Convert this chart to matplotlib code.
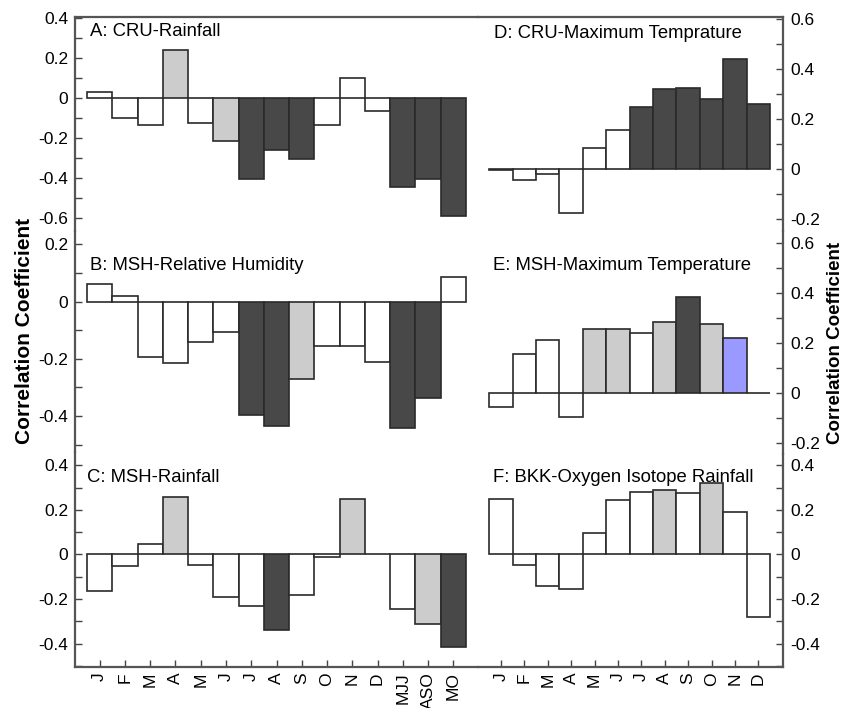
import matplotlib.pyplot as plt
from matplotlib.ticker import MultipleLocator, FuncFormatter

plt.rcParams['font.family'] = ['Liberation Sans', 'DejaVu Sans']

# bar categories
months = ['J', 'F', 'M', 'A', 'M', 'J', 'J', 'A', 'S', 'O', 'N', 'D']
seasons = ['MJJ', 'ASO', 'MO']
left_labels = months + seasons
right_labels = months

# correlation values
# sig: n = not significant, l = light gray, d = dark gray, b = blue
cru_rain = [0.03, -0.10, -0.135, 0.24, -0.125, -0.215, -0.405, -0.26, -0.305,
            -0.135, 0.10, -0.065, -0.445, -0.405, -0.59]
cru_rain_sig = ['n', 'n', 'n', 'l', 'n', 'l', 'd', 'd', 'd', 'n', 'n', 'n', 'd', 'd', 'd']

msh_rh = [0.06, 0.02, -0.195, -0.215, -0.14, -0.105, -0.395, -0.435, -0.27,
          -0.155, -0.155, -0.21, -0.44, -0.335, 0.085]
msh_rh_sig = ['n', 'n', 'n', 'n', 'n', 'n', 'd', 'd', 'l', 'n', 'n', 'n', 'd', 'd', 'n']

msh_rain = [-0.165, -0.05, 0.045, 0.26, -0.045, -0.19, -0.23, -0.34, -0.18,
            -0.01, 0.25, 0.0, -0.245, -0.31, -0.415]
msh_rain_sig = ['n', 'n', 'n', 'l', 'n', 'n', 'n', 'd', 'n', 'n', 'l', 'n', 'n', 'l', 'd']

cru_tmax = [-0.005, -0.045, -0.02, -0.175, 0.085, 0.155, 0.25, 0.32, 0.325, 0.28, 0.44, 0.26]
cru_tmax_sig = ['n', 'n', 'n', 'n', 'n', 'n', 'd', 'd', 'd', 'd', 'd', 'd']

msh_tmax = [-0.055, 0.155, 0.21, -0.095, 0.255, 0.255, 0.24, 0.285, 0.385, 0.275, 0.22, 0.0]
msh_tmax_sig = ['n', 'n', 'n', 'n', 'l', 'l', 'n', 'l', 'd', 'l', 'b', 'n']

bkk_o18 = [0.25, -0.045, -0.14, -0.155, 0.095, 0.245, 0.28, 0.29, 0.275, 0.32, 0.19, -0.28]
bkk_o18_sig = ['n', 'n', 'n', 'n', 'n', 'n', 'n', 'l', 'n', 'l', 'n', 'n']

fills = {'n': 'white', 'l': '#cccccc', 'd': '#484848', 'b': '#9999ff'}

W, H = 845, 708
fig = plt.figure(figsize=(W / 100, H / 100), dpi=100)


# axes from pixel box (left, top, right, bottom)
def add_axes_px(x0, y0, x1, y1):
    return fig.add_axes([x0 / W, 1 - y1 / H, (x1 - x0) / W, (y1 - y0) / H])


def fmt(v, pos):
    v = round(v, 2)
    if v == 0:
        return '0'
    return '%g' % v


def panel(box, vals, sig, labels, ylim, xlim, side, top, bottom):
    ax = add_axes_px(*box)
    x = list(range(len(vals)))
    ax.bar(x, vals, width=1.0, color=[fills[s] for s in sig],
           edgecolor='#2a2a2a', linewidth=1.2, zorder=2)
    ax.set_xlim(*xlim)
    ax.set_ylim(*ylim)
    ax.patch.set_alpha(0)

    for s in ax.spines.values():
        s.set_visible(False)
        s.set_color('#555555')
        s.set_linewidth(1.6)
    ax.spines[side].set_visible(True)
    ax.spines['top'].set_visible(top)
    ax.spines['bottom'].set_visible(bottom)

    ax.yaxis.set_major_locator(MultipleLocator(0.2))
    ax.yaxis.set_minor_locator(MultipleLocator(0.1))
    ax.yaxis.set_major_formatter(FuncFormatter(fmt))
    on_left = side == 'left'
    ax.tick_params(axis='y', which='both', direction='in', length=5, width=1,
                   color='#444444', left=on_left, right=not on_left,
                   labelleft=on_left, labelright=not on_left,
                   labelsize=12.5, pad=5)

    if bottom:
        ax.set_xticks(x)
        ax.set_xticklabels(labels, rotation=90, fontsize=12.5)
        ax.tick_params(axis='x', direction='in', length=5, width=1,
                       color='#444444', top=False, pad=4)
    else:
        ax.tick_params(axis='x', bottom=False, top=False, labelbottom=False)
    return ax


lx0, split, rx1 = 75, 478, 783
left_xlim = (-0.975, 14.975)
right_xlim = (-0.983, 12.056)

panel((lx0, 17, split, 231), cru_rain, cru_rain_sig, left_labels,
      (-0.6635, 0.4065), left_xlim, 'left', True, False)
panel((lx0, 231, split, 452), msh_rh, msh_rh_sig, left_labels,
      (-0.5255, 0.247), left_xlim, 'left', False, False)
panel((lx0, 452, split, 667), msh_rain, msh_rain_sig, left_labels,
      (-0.505, 0.46), left_xlim, 'left', False, True)

panel((split, 17, rx1, 231), cru_tmax, cru_tmax_sig, right_labels,
      (-0.248, 0.608), right_xlim, 'right', True, False)
panel((split, 231, rx1, 454), msh_tmax, msh_tmax_sig, right_labels,
      (-0.245, 0.647), right_xlim, 'right', False, False)
panel((split, 454, rx1, 667), bkk_o18, bkk_o18_sig, right_labels,
      (-0.505, 0.451), right_xlim, 'right', False, True)

# panel titles
titles = [('A: CRU-Rainfall', 90, 32), ('B: MSH-Relative Humidity', 90, 265),
          ('C: MSH-Rainfall', 87, 477), ('D: CRU-Maximum Temprature', 494, 33),
          ('E: MSH-Maximum Temperature', 493, 266),
          ('F: BKK-Oxygen Isotope Rainfall', 493, 477)]
for t, px, py in titles:
    fig.text(px / W, 1 - py / H, t, fontsize=13.3, ha='left', va='center')

fig.text(25 / W, 1 - 331 / H, 'Correlation Coefficient', rotation=90,
         fontsize=15, fontweight='bold', ha='center', va='center')
fig.text(836 / W, 1 - 343 / H, 'Correlation Coefficient', rotation=90,
         fontsize=13.5, fontweight='bold', ha='center', va='center')

fig.savefig('out.png', dpi=100)
